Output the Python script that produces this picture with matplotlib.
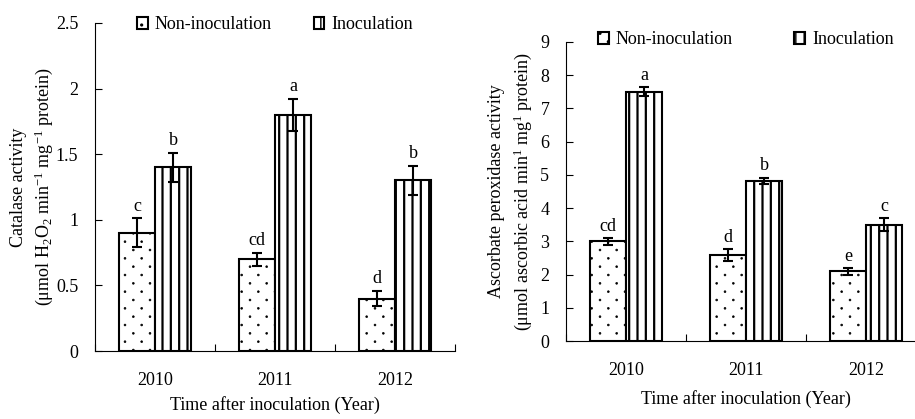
import matplotlib
matplotlib.use("Agg")
import matplotlib.pyplot as plt
import matplotlib.hatch as mhatch
from matplotlib.path import Path
import numpy as np

plt.rcParams['font.family'] = ['Liberation Serif', 'DejaVu Serif']
plt.rcParams['mathtext.fontset'] = 'custom'
plt.rcParams['mathtext.rm'] = 'Liberation Serif'
plt.rcParams['mathtext.it'] = 'Liberation Serif:italic'
plt.rcParams['mathtext.default'] = 'regular'

FS = 13

years = ['2010', '2011', '2012']

# catalase
cat_non = [0.9, 0.7, 0.4]
cat_non_err = [0.11, 0.05, 0.06]
cat_ino = [1.4, 1.8, 1.3]
cat_ino_err = [0.11, 0.12, 0.11]
cat_non_lbl = ['c', 'cd', 'd']
cat_ino_lbl = ['b', 'a', 'b']

# ascorbate peroxidase
apx_non = [3.0, 2.58, 2.1]
apx_non_err = [0.1, 0.18, 0.1]
apx_ino = [7.5, 4.82, 3.5]
apx_ino_err = [0.14, 0.1, 0.2]
apx_non_lbl = ['cd', 'd', 'e']
apx_ino_lbl = ['a', 'b', 'c']


class StaggeredDots(mhatch.HatchPatternBase):
    """'.' hatch: small dots, rows twice as close as columns, every other row shifted"""

    def __init__(self, hatch, density):
        n = hatch.count('.') * density
        circ = Path.unit_circle()
        self.circ_v = circ.vertices
        self.circ_c = circ.codes
        self.pts = []
        if n:
            rows = 2 * n
            for r in range(rows + 1):
                if r % 2 == 0:
                    xs = np.linspace(0, 1, n + 1)
                else:
                    xs = np.linspace(0.5 / n, 1 - 0.5 / n, n)
                self.pts += [(xx, r / rows) for xx in xs]
        self.num_vertices = len(self.pts) * len(self.circ_v)

    def set_vertices_and_codes(self, vertices, codes):
        nv = len(self.circ_v)
        cur = 0
        for px, py in self.pts:
            vertices[cur:cur + nv] = self.circ_v * 0.009 + [px, py]
            codes[cur:cur + nv] = self.circ_c
            cur += nv


mhatch._hatch_types = [StaggeredDots if t is mhatch.SmallFilledCircles else t
                       for t in mhatch._hatch_types]

fig = plt.figure(figsize=(9.15, 4.19), dpi=100)
ax1 = fig.add_axes([95 / 915, 1 - 351 / 419, 360 / 915, 328 / 419])
ax2 = fig.add_axes([566 / 915, 1 - 341 / 419, 360 / 915, 299 / 419])


def set_hatch_lw(bars, lw):
    # newer matplotlib keeps the hatch width per patch
    if hasattr(bars[0], 'set_hatch_linewidth'):
        for p in bars:
            p.set_hatch_linewidth(lw)


def draw(ax, non, non_err, ino, ino_err, non_lbl, ino_lbl, ymax, step, ylabel, lab_x, xpad, leg_y, lbl_pad, colsp):
    x = np.arange(len(years))
    w = 0.3
    with plt.rc_context({'hatch.linewidth': 0.5}):
        b1 = ax.bar(x - w / 2, non, w, color='white', edgecolor='black', hatch='.', linewidth=1.5,
                    label='Non-inoculation')
    set_hatch_lw(b1, 0.5)
    with plt.rc_context({'hatch.linewidth': 1.6}):
        b2 = ax.bar(x + w / 2, ino, w, color='white', edgecolor='black', hatch='||', linewidth=1.5,
                    label='Inoculation')
    set_hatch_lw(b2, 1.6)
    ax.errorbar(x - w / 2, non, yerr=non_err, fmt='none', ecolor='black', elinewidth=1.5,
                capsize=3.5, capthick=1.5)
    ax.errorbar(x + w / 2, ino, yerr=ino_err, fmt='none', ecolor='black', elinewidth=1.5,
                capsize=3.5, capthick=1.5)
    for i in range(len(years)):
        ax.text(x[i] - w / 2, non[i] + non_err[i] + lbl_pad, non_lbl[i], ha='center', va='bottom', fontsize=FS)
        ax.text(x[i] + w / 2, ino[i] + ino_err[i] + lbl_pad, ino_lbl[i], ha='center', va='bottom', fontsize=FS)

    ticks = np.arange(0, ymax + step / 2, step)
    ax.set_xlim(-0.5, 2.5)
    ax.set_ylim(0, ymax)
    ax.set_yticks(ticks)
    ax.set_yticklabels(['%g' % v for v in ticks])
    ax.set_xticks([-0.5, 0.5, 1.5, 2.5])
    ax.set_xticklabels([])
    ax.set_xticks(x, minor=True)
    ax.set_xticklabels(years, minor=True)
    ax.tick_params(axis='x', which='minor', length=0, pad=15, labelsize=FS)
    ax.tick_params(axis='x', which='major', direction='in', length=5)
    ax.tick_params(axis='y', direction='in', length=5, pad=12, labelsize=FS)
    ax.spines['top'].set_visible(False)
    ax.spines['right'].set_visible(False)
    ax.set_ylabel(ylabel, fontsize=FS, linespacing=1.35)
    ax.yaxis.set_label_coords(lab_x, 0.5)
    ax.set_xlabel('Time after inoculation (Year)', fontsize=FS, labelpad=xpad)
    ax.legend(handles=[b1, b2], loc='center', bbox_to_anchor=(0.5, leg_y), ncol=2, frameon=False,
              fontsize=FS, handlelength=0.6, handleheight=0.6, handletextpad=0.4,
              columnspacing=colsp, borderpad=0)


draw(ax1, cat_non, cat_non_err, cat_ino, cat_ino_err, cat_non_lbl, cat_ino_lbl, 2.5, 0.5,
     'Catalase activity\n(μmol H$_2$O$_2$ min$^{-1}$ mg$^{-1}$ protein)', -0.11, 5, 0.994, 0.03, 2.3)
draw(ax2, apx_non, apx_non_err, apx_ino, apx_ino_err, apx_non_lbl, apx_ino_lbl, 9, 1,
     'Ascorbate peroxidase activity\n(μmol ascorbic acid min$^{1}$ mg$^{1}$ protein)', -0.09, 8, 1.007, 0.1, 3.4)

fig.savefig('out.png', dpi=100)
